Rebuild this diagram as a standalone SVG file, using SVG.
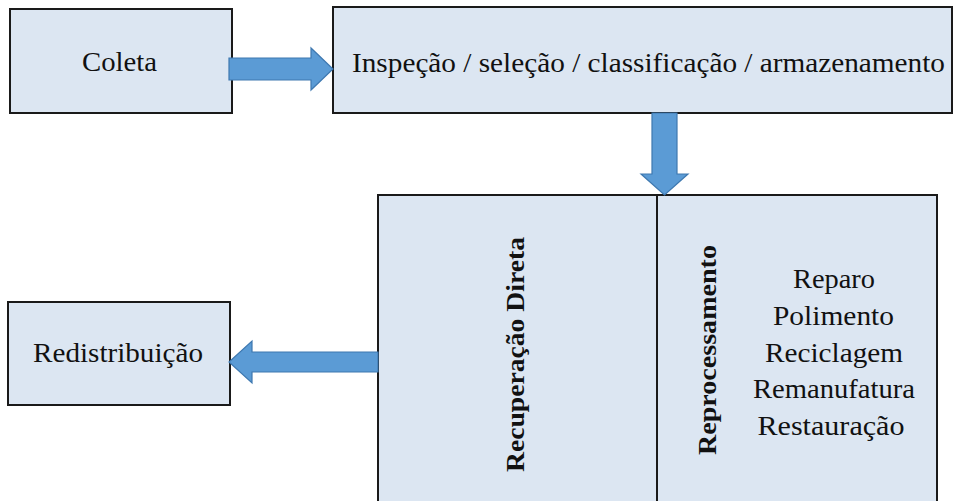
<svg xmlns="http://www.w3.org/2000/svg" width="956" height="501" viewBox="0 0 956 501" font-family="'Liberation Serif', 'Times New Roman', Times, serif">
  <style>
    .box { fill: #dce6f2; stroke: #1a1a1a; stroke-width: 2; }
    .arrow { fill: #5b9bd5; stroke: #3e78b0; stroke-width: 1.2; stroke-linejoin: miter; }
    .t { font-size: 27px; fill: #111; text-anchor: middle; }
    .tb { font-size: 26px; font-weight: bold; fill: #111; text-anchor: middle; }
  </style>
  <rect width="956" height="501" fill="#ffffff"/>

  <g id="coleta">
    <rect class="box" x="10" y="9" width="222" height="104"/>
    <text class="t" font-family="Liberation Serif" x="119.5" y="71" textLength="75" lengthAdjust="spacingAndGlyphs">Coleta</text>
  </g>

  <g id="inspecao">
    <rect class="box" x="333" y="7" width="619" height="106"/>
    <text class="t" font-family="Liberation Serif" x="648.5" y="72" textLength="593" lengthAdjust="spacingAndGlyphs">Inspeção / seleção / classificação / armazenamento</text>
  </g>

  <g id="recuperacao">
    <rect class="box" x="378" y="195" width="559" height="330"/>
    <line x1="657" y1="195" x2="657" y2="510" stroke="#1a1a1a" stroke-width="2"/>
    <text class="tb" font-family="Liberation Serif" transform="translate(524,354.5) rotate(-90)" textLength="235" lengthAdjust="spacingAndGlyphs">Recuperação Direta</text>
    <text class="tb" font-family="Liberation Serif" transform="translate(716,350) rotate(-90)" textLength="210" lengthAdjust="spacingAndGlyphs">Reprocessamento</text>
    <text class="t" font-family="Liberation Serif" x="834" y="288" textLength="82" lengthAdjust="spacingAndGlyphs">Reparo</text>
    <text class="t" font-family="Liberation Serif" x="833.5" y="325" textLength="121" lengthAdjust="spacingAndGlyphs">Polimento</text>
    <text class="t" font-family="Liberation Serif" x="834" y="362" textLength="138" lengthAdjust="spacingAndGlyphs">Reciclagem</text>
    <text class="t" font-family="Liberation Serif" x="834" y="398" textLength="162" lengthAdjust="spacingAndGlyphs">Remanufatura</text>
    <text class="t" font-family="Liberation Serif" x="831" y="435" textLength="147" lengthAdjust="spacingAndGlyphs">Restauração</text>
  </g>

  <g id="redistribuicao">
    <rect class="box" x="8" y="302" width="222" height="103"/>
    <text class="t" font-family="Liberation Serif" x="118" y="362" textLength="170" lengthAdjust="spacingAndGlyphs">Redistribuição</text>
  </g>

  <g id="connectors">
    <polygon class="arrow" points="229,58 311,58 311,48 333,69 311,90 311,80 229,80"/>
    <polygon class="arrow" points="652,113 677,113 677,174 688,174 664.5,195 641,174 652,174"/>
    <polygon class="arrow" points="378,352 252,352 252,341 229,362 252,383 252,372 378,372"/>
  </g>
</svg>
